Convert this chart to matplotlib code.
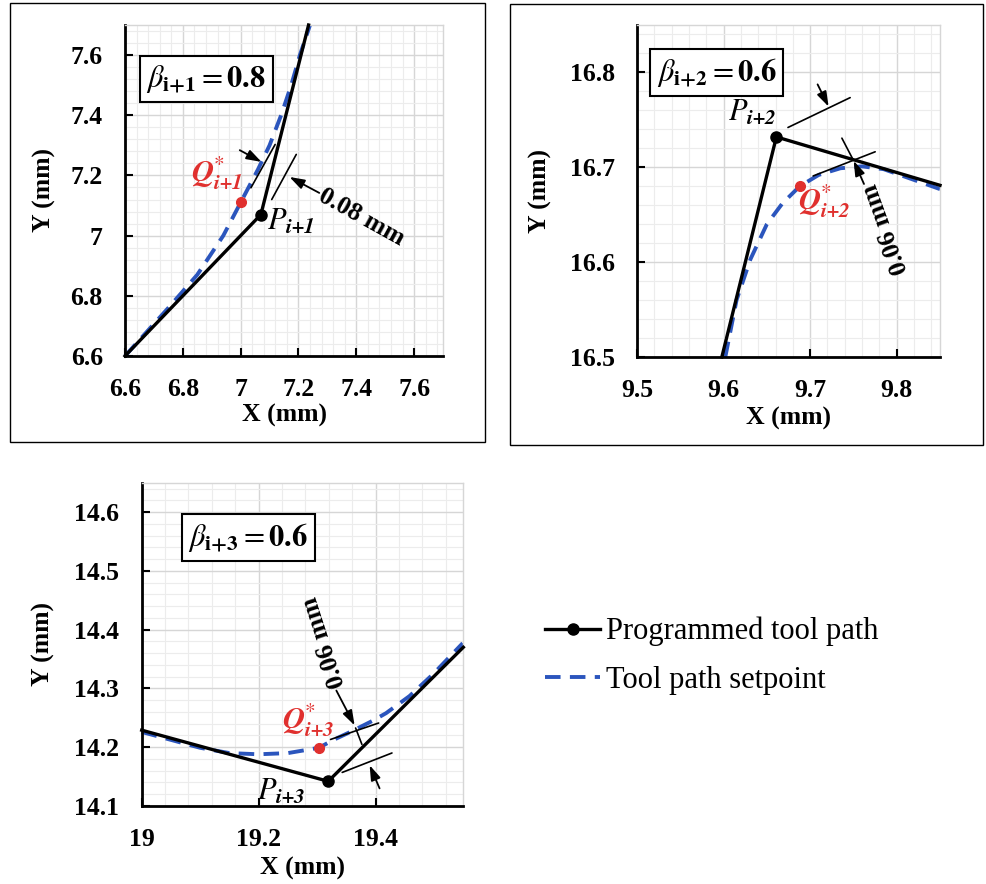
import matplotlib
matplotlib.use("Agg")
import matplotlib.pyplot as plt
from matplotlib.patches import Rectangle
from matplotlib.ticker import AutoMinorLocator, MultipleLocator, FormatStrFormatter

plt.rcParams["font.family"] = ["Liberation Serif", "DejaVu Serif"]
plt.rcParams["mathtext.fontset"] = "stix"

# ---- data ----
# panel 1 (beta = 0.8)
prog1_x = [6.6, 7.07, 7.235]
prog1_y = [6.6, 7.07, 7.7]
set1_x = [6.6, 6.75, 6.85, 6.94, 7.0, 7.06, 7.1, 7.14, 7.175, 7.205, 7.24]
set1_y = [6.6, 6.76, 6.87, 7.0, 7.11, 7.22, 7.3, 7.4, 7.5, 7.6, 7.7]
q1 = (7.0, 7.113)

# panel 2 (beta = 0.6)
prog2_x = [9.598, 9.661, 9.85]
prog2_y = [16.5, 16.732, 16.681]
set2_x = [9.602, 9.615, 9.631, 9.65, 9.668, 9.688, 9.71, 9.735, 9.76, 9.785, 9.85]
set2_y = [16.5, 16.56, 16.603, 16.64, 16.662, 16.68, 16.692, 16.699, 16.701, 16.698, 16.677]
q2 = (9.688, 16.680)

# panel 3 (beta = 0.6)
prog3_x = [19.0, 19.319, 19.55]
prog3_y = [14.229, 14.142, 14.37]
set3_x = [19.0, 19.1, 19.15, 19.2, 19.25, 19.303, 19.327, 19.361, 19.395,
          19.418, 19.458, 19.498, 19.549]
set3_y = [14.226, 14.199, 14.19, 14.188, 14.19, 14.199, 14.212, 14.228,
          14.245, 14.258, 14.287, 14.324, 14.377]
q3 = (19.303, 14.199)

BLUE = "#2b55bd"
RED = "#e0302e"
W, H = 986, 884

fig = plt.figure(figsize=(W / 100, H / 100), dpi=100)


def px_axes(left, top, right, bottom):
    return fig.add_axes([left / W, 1 - bottom / H, (right - left) / W, (bottom - top) / H])


def style(ax, xlim, ylim, xstep, ystep, xfmt, yfmt, xlab_y, ylab_x):
    ax.set_xlim(*xlim)
    ax.set_ylim(*ylim)
    ax.xaxis.set_major_locator(MultipleLocator(xstep))
    ax.yaxis.set_major_locator(MultipleLocator(ystep))
    ax.xaxis.set_minor_locator(AutoMinorLocator(5))
    ax.yaxis.set_minor_locator(AutoMinorLocator(5))
    ax.xaxis.set_major_formatter(FormatStrFormatter(xfmt))
    ax.yaxis.set_major_formatter(FormatStrFormatter(yfmt))
    ax.grid(which="major", color="#d6d6d6", lw=1.0)
    ax.grid(which="minor", color="#ececec", lw=0.8)
    ax.set_axisbelow(True)
    for s in ["left", "bottom"]:
        ax.spines[s].set_linewidth(2.0)
    for s in ["top", "right"]:
        ax.spines[s].set_color("#d6d6d6")
        ax.spines[s].set_linewidth(1.0)
    ax.tick_params(which="major", direction="in", length=6, width=1.5,
                   top=False, right=False)
    ax.tick_params(which="minor", length=0)
    ax.tick_params(axis="y", pad=16)
    ax.tick_params(axis="x", pad=16)
    for lab in ax.get_xticklabels() + ax.get_yticklabels():
        lab.set_fontsize(18.5)
        lab.set_fontweight("bold")
    ax.set_xlabel("X (mm)", fontsize=18.5, fontweight="bold")
    ax.set_ylabel("Y (mm)", fontsize=18.5, fontweight="bold")
    ax.xaxis.set_label_coords(0.5, xlab_y)
    ax.yaxis.set_label_coords(ylab_x, 0.5)
    ax.xaxis.label.set_va("baseline")
    ax.yaxis.label.set_va("center")


def paths(ax, px, py, sx, sy, q):
    prog, = ax.plot(px, py, color="black", lw=2.4, marker="o", markersize=8,
                    markevery=[1], label="Programmed tool path", zorder=3,
                    clip_on=False)
    sp, = ax.plot(sx, sy, color=BLUE, lw=2.8, dashes=(4.0, 2.4),
                  label="Tool path setpoint", zorder=2, clip_on=False)
    ax.plot(*q, "o", color=RED, markersize=7, zorder=4)
    return prog, sp


def beta_box(ax, x, y, text):
    ax.text(x, y, text, transform=ax.transAxes, ha="center", va="center",
            fontsize=22, zorder=5,
            bbox=dict(boxstyle="square,pad=0.22", fc="white", ec="black", lw=1.5))


def dim_line(ax, a, b):
    ax.annotate("", xy=b, xytext=a, arrowprops=dict(arrowstyle="-", color="black", lw=1.2))


def dim_arrow(ax, tail, head):
    ax.annotate("", xy=head, xytext=tail,
                arrowprops=dict(arrowstyle="-|>,head_length=0.9,head_width=0.3",
                                color="black", lw=1.3, shrinkA=0, shrinkB=0))


# ---- panel 1 ----
ax1 = px_axes(125, 25, 443, 356)
style(ax1, (6.6, 7.7), (6.6, 7.7), 0.2, 0.2, "%g", "%g", -0.199, -0.252)
paths(ax1, prog1_x, prog1_y, set1_x, set1_y, q1)
beta_box(ax1, 0.255, 0.837, r"$\beta_{\mathbf{i{+}1}}=\mathbf{0.8}$")
dim_line(ax1, (7.031, 7.151), (7.124, 7.311))
dim_line(ax1, (7.103, 7.112), (7.197, 7.278))
dim_arrow(ax1, (6.997, 7.284), (7.072, 7.245))
dim_arrow(ax1, (7.272, 7.142), (7.169, 7.195))
ax1.text(7.417, 7.062, "0.08 mm", rotation=-29, fontsize=18.5, fontweight="bold",
         ha="center", va="center", rotation_mode="anchor")
ax1.text(6.916, 7.207, r"$\mathbfit{Q}^{*}_{\mathbfit{i{+}1}}$", color=RED,
         fontsize=22, ha="center", va="center")
ax1.text(7.175, 7.046, r"$P_{\mathbfit{i{+}1}}$", fontsize=22, ha="center", va="center")

# ---- panel 2 ----
ax2 = px_axes(637, 25, 940, 357)
style(ax2, (9.5, 9.85), (16.5, 16.85), 0.1, 0.1, "%.1f", "%.1f", -0.205, -0.32)
paths(ax2, prog2_x, prog2_y, set2_x, set2_y, q2)
beta_box(ax2, 0.263, 0.857, r"$\beta_{\mathbf{i{+}2}}=\mathbf{0.6}$")
dim_line(ax2, (9.6715, 16.7407), (9.7491, 16.7747))
dim_arrow(ax2, (9.7086, 16.7874), (9.7213, 16.7640))
dim_line(ax2, (9.7005, 16.6898), (9.7781, 16.7174))
dim_line(ax2, (9.7352, 16.7333), (9.7503, 16.7068))
dim_arrow(ax2, (9.7622, 16.6824), (9.7503, 16.7068))
ax2.text(9.7874, 16.6347, "0.06 mm", rotation=110, fontsize=18.5, fontweight="bold",
         ha="center", va="center", rotation_mode="anchor")
ax2.text(9.7159, 16.6644, r"$\mathbfit{Q}^{*}_{\mathbfit{i{+}2}}$", color=RED,
         fontsize=22, ha="center", va="center")
ax2.text(9.6329, 16.7566, r"$P_{\mathbfit{i{+}2}}$", fontsize=22, ha="center", va="center")

# ---- panel 3 ----
ax3 = px_axes(141.7, 482.7, 463.3, 806)
style(ax3, (19.0, 19.55), (14.1, 14.65), 0.2, 0.1, "%g", "%.1f", -0.213, -0.306)
prog, sp = paths(ax3, prog3_x, prog3_y, set3_x, set3_y, q3)
beta_box(ax3, 0.331, 0.831, r"$\beta_{\mathbf{i{+}3}}=\mathbf{0.6}$")
dim_line(ax3, (19.3185, 14.2117), (19.4097, 14.2427))
dim_line(ax3, (19.3385, 14.1554), (19.4324, 14.1919))
dim_arrow(ax3, (19.3329, 14.2964), (19.3641, 14.2371))
dim_line(ax3, (19.3641, 14.2371), (19.3783, 14.2004))
dim_arrow(ax3, (19.4068, 14.1300), (19.3898, 14.1694))
ax3.text(19.3129, 14.3781, "0.06 mm", rotation=108, fontsize=18.5, fontweight="bold",
         ha="center", va="center", rotation_mode="anchor")
ax3.text(19.2844, 14.2456, r"$\mathbfit{Q}^{*}_{\mathbfit{i{+}3}}$", color=RED,
         fontsize=22, ha="center", va="center")
ax3.text(19.2390, 14.1242, r"$P_{\mathbfit{i{+}3}}$", fontsize=22, ha="center", va="center")

# frames around the two top panels
fig.add_artist(Rectangle((10 / W, 1 - 442 / H), 475 / W, 439 / H,
                         transform=fig.transFigure, fill=False, ec="black", lw=1.0))
fig.add_artist(Rectangle((510 / W, 1 - 445 / H), 473 / W, 441 / H,
                         transform=fig.transFigure, fill=False, ec="black", lw=1.0))

fig.legend(handles=[prog, sp], loc="center left", bbox_to_anchor=(545 / W, 1 - 656 / H),
           frameon=False, fontsize=22, handlelength=1.8, handletextpad=0.2,
           labelspacing=0.65, borderpad=0, borderaxespad=0)

fig.savefig("out.png", dpi=100)
